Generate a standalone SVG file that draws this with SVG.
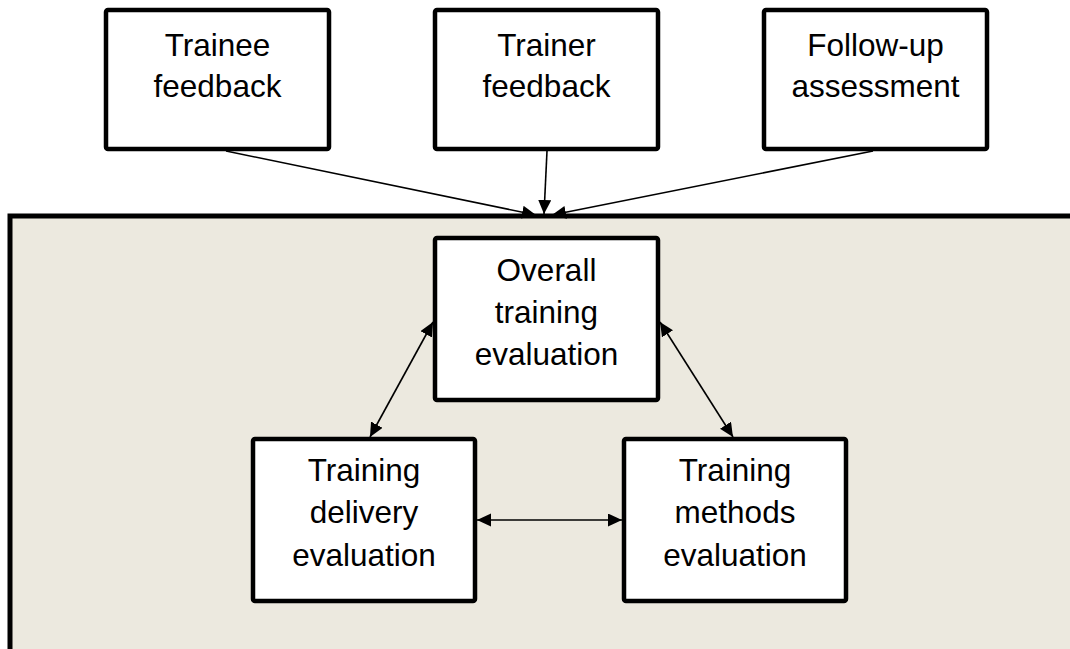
<svg xmlns="http://www.w3.org/2000/svg" width="1070" height="649" viewBox="0 0 1070 649">
  <style>
    .box { fill: #ffffff; stroke: #000000; stroke-width: 4.5; }
    .lbl { font-family: "Liberation Sans", Arial, sans-serif; font-size: 31.5px; fill: #000000; text-anchor: middle; }
    .conn { stroke: #000000; stroke-width: 1.6; fill: none; }
  </style>
  <defs>
    <marker id="arr" markerUnits="userSpaceOnUse" markerWidth="16" markerHeight="14" refX="14" refY="6.5" orient="auto-start-reverse">
      <path d="M0,0 L14,6.5 L0,13 z" fill="#000000"/>
    </marker>
  </defs>
  <rect x="0" y="0" width="1070" height="649" fill="#ffffff"/>
  <g id="panel">
    <rect x="10" y="216" width="1100" height="500" fill="#ECE9DF" stroke="#000000" stroke-width="5"/>
  </g>
  <g id="trainee-feedback">
    <rect class="box" x="106" y="10" width="223" height="139" rx="2"/>
    <text class="lbl" x="217.5" y="56">Trainee</text>
    <text class="lbl" x="217.5" y="97">feedback</text>
  </g>
  <g id="trainer-feedback">
    <rect class="box" x="435" y="10" width="223" height="139" rx="2"/>
    <text class="lbl" x="546.5" y="56">Trainer</text>
    <text class="lbl" x="546.5" y="97">feedback</text>
  </g>
  <g id="follow-up-assessment">
    <rect class="box" x="764" y="10" width="223" height="139" rx="2"/>
    <text class="lbl" x="875.5" y="56">Follow-up</text>
    <text class="lbl" x="875.5" y="97">assessment</text>
  </g>
  <g id="overall-training-evaluation">
    <rect class="box" x="435" y="238" width="223" height="162" rx="2"/>
    <text class="lbl" x="546.5" y="281">Overall</text>
    <text class="lbl" x="546.5" y="323">training</text>
    <text class="lbl" x="546.5" y="365">evaluation</text>
  </g>
  <g id="training-delivery-evaluation">
    <rect class="box" x="253" y="439" width="222" height="162" rx="2"/>
    <text class="lbl" x="364" y="481">Training</text>
    <text class="lbl" x="364" y="523">delivery</text>
    <text class="lbl" x="364" y="566">evaluation</text>
  </g>
  <g id="training-methods-evaluation">
    <rect class="box" x="624" y="439" width="222" height="162" rx="2"/>
    <text class="lbl" x="735" y="481">Training</text>
    <text class="lbl" x="735" y="523">methods</text>
    <text class="lbl" x="735" y="566">evaluation</text>
  </g>
  <g id="connectors">
    <line class="conn" x1="226" y1="151" x2="536" y2="215" marker-end="url(#arr)"/>
    <line class="conn" x1="547" y1="151" x2="544" y2="214" marker-end="url(#arr)"/>
    <line class="conn" x1="873" y1="151" x2="552" y2="215" marker-end="url(#arr)"/>
    <line class="conn" x1="433" y1="322" x2="370" y2="437" marker-start="url(#arr)" marker-end="url(#arr)"/>
    <line class="conn" x1="660" y1="322" x2="733" y2="437" marker-start="url(#arr)" marker-end="url(#arr)"/>
    <line class="conn" x1="477" y1="520" x2="622" y2="520" marker-start="url(#arr)" marker-end="url(#arr)"/>
  </g>
</svg>
